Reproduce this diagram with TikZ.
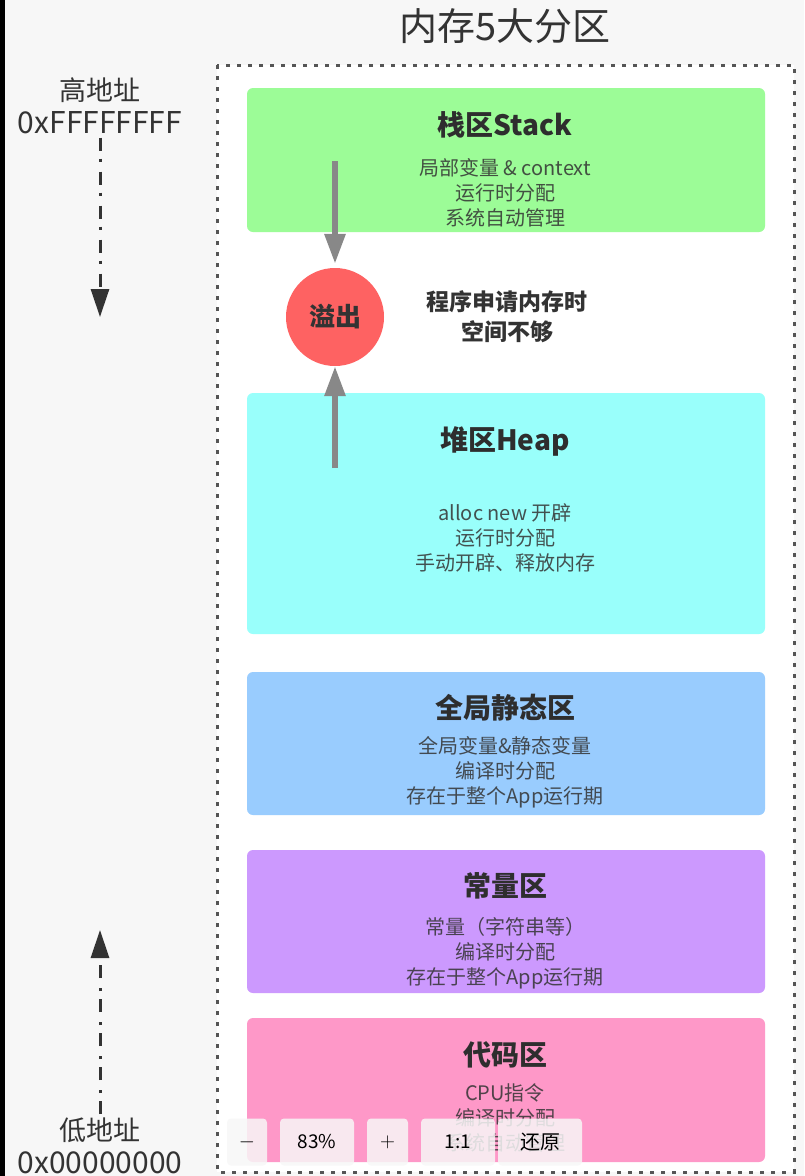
\documentclass[tikz,border=0pt]{standalone}
\usepackage{fontspec}
\setmainfont{Noto Sans CJK SC}
\usetikzlibrary{arrows.meta}
\definecolor{bgc}{HTML}{F7F7F7}
\definecolor{txt}{HTML}{333333}
\definecolor{stackc}{HTML}{9CFC97}
\definecolor{heapc}{HTML}{99FFFB}
\definecolor{globc}{HTML}{99CCFE}
\definecolor{constc}{HTML}{CC99FE}
\definecolor{codec}{HTML}{FE98C8}
\definecolor{ovfc}{HTML}{FE6262}
\definecolor{arrc}{HTML}{888888}
\definecolor{dotc}{HTML}{555555}
\tikzset{
  x=1pt, y=-1pt,
  zone/.style={rounded corners=6pt, minimum width=518pt, inner sep=0pt, draw=none},
  zonetitle/.style={font=\fontsize{28}{32}\selectfont\bfseries, text=txt!90!black},
  zonebody/.style={font=\fontsize{20}{25}\selectfont, text=txt, text opacity=0.85, align=center},
  garrow/.style={draw=arrc, line width=6pt, -{Triangle[length=30pt,width=20pt]}},
  ddarrow/.style={draw=txt, line width=3pt, dash pattern=on 13pt off 8pt on 3pt off 10pt, -{Triangle[length=28pt,width=18pt]}},
  addr/.style={font=\fontsize{27}{30}\selectfont, text=txt},
  hexaddr/.style={font=\fontsize{30}{32}\selectfont, text=txt},
  tbtn/.style={fill=bgc, fill opacity=0.85, rounded corners=4pt, minimum height=47pt, inner sep=0pt, text opacity=1, font=\fontsize{20}{22}\selectfont, text=black},
}
\begin{document}
\begin{tikzpicture}
\useasboundingbox (0,0) rectangle (804,1176);
\fill[bgc] (0,0) rectangle (804,1176);
\fill[black] (0,0) rectangle (5,1176);

% title
\node[font=\fontsize{38}{42}\selectfont, text=txt] (title) at (505,26) {内存5大分区};

% dotted frame
\draw[dotc, fill=white, line width=3pt, dash pattern=on 4pt off 7pt] (217,65) rectangle (794,1172);

% zones
\node[zone, fill=stackc, minimum height=144pt] (stack) at (506,160) {};
\node[zone, fill=heapc, minimum height=241pt] (heap) at (506,513.5) {};
\node[zone, fill=globc, minimum height=143pt] (glob) at (506,743.5) {};
\node[zone, fill=constc, minimum height=143pt] (const) at (506,921.5) {};
\node[zone, fill=codec, minimum height=144pt] (code) at (506,1090) {};

\node[zonetitle] (stackT) at (505,125) {栈区Stack};
\node[zonebody] (stackB) at (505,193) {局部变量 \& context\\运行时分配\\系统自动管理};

\node[zonetitle] (heapT) at (505,441) {堆区Heap};
\node[zonebody] (heapB) at (505,538) {alloc new 开辟\\运行时分配\\手动开辟、释放内存};

\node[zonetitle] (globT) at (505,708) {全局静态区};
\node[zonebody] (globB) at (505,772) {全局变量\&静态变量\\编译时分配\\存在于整个App运行期};

\node[zonetitle] (constT) at (505,886) {常量区};
\node[zonebody] (constB) at (505,953) {常量（字符串等）\\编译时分配\\存在于整个App运行期};

\node[zonetitle] (codeT) at (505,1055) {代码区};
\node[zonebody] (codeB) at (505,1118) {CPU指令\\编译时分配\\系统自动管理};

% overflow
\node[circle, fill=ovfc, minimum size=98pt, inner sep=0pt, font=\fontsize{26}{30}\selectfont\bfseries, text=txt] (ovf) at (335,317) {溢出};
\node[font=\fontsize{23}{30}\selectfont\bfseries, text=txt, align=center] (ovfT) at (507,317) {程序申请内存时\\空间不够};

\coordinate (stackTail) at (335,161);
\coordinate (heapTail) at (335,468);
\draw[garrow, shorten >=4pt] (stackTail) -- (ovf.north);
\draw[garrow] (heapTail) -- (ovf.south);

% address labels
\node[addr] (hi) at (100,90) {高地址};
\node[hexaddr] (hiX) at (100,123) {0xFFFFFFFF};
\node[addr] (lo) at (100,1130) {低地址};
\node[hexaddr] (loX) at (100,1163) {0x00000000};
\coordinate (hiEnd) at (100,317);
\coordinate (loEnd) at (100,930);
\draw[ddarrow] (hiX.south) -- (hiEnd);
\draw[ddarrow] (lo.north) -- (loEnd);

% zoom toolbar overlay
\node[tbtn, minimum width=40pt] (bMinus) at (247,1142) {$-$};
\node[tbtn, minimum width=74pt, font=\fontsize{19}{22}\selectfont\rmfamily] (bPct) at (317,1142) {83\%};
\node[tbtn, minimum width=41pt] (bPlus) at (387.5,1142) {$+$};
\node[tbtn, minimum width=74pt, font=\fontsize{19}{22}\selectfont\rmfamily] (bOne) at (458,1142) {1:1};
\node[tbtn, minimum width=84pt] (bReset) at (540,1142) {还原};
\end{tikzpicture}
\end{document}
